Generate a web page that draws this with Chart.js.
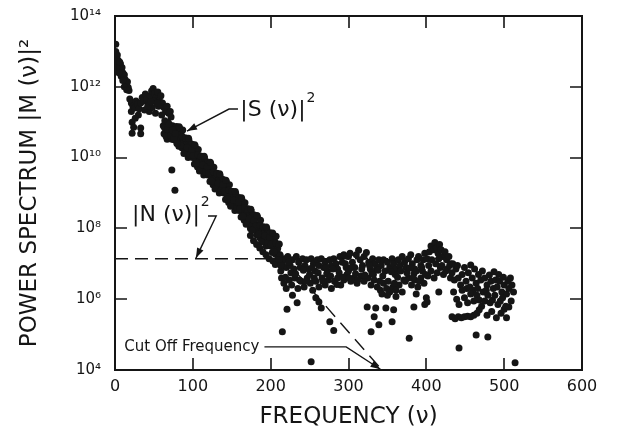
<!DOCTYPE html>
<html><head><meta charset="utf-8">
<script src="https://cdn.jsdelivr.net/npm/chart.js@4/dist/chart.umd.min.js"></script>
<style>html,body{margin:0;padding:0;background:#fff}#wrap{width:617px;height:434px}</style>
</head><body><div id="wrap"><canvas id="c" width="617" height="434"></canvas></div>
<script>
// ---- signal part |S(v)|^2 (frequency, power) ----
const signalFreq = [
 1,1,2,3,2,4,5,3,6,7,8,9,8,10,11,12,13,14,15,16,17,15,5,10,12,18,2,6,
 19,21,23,21,25,27,29,31,33,35,37,39,41,43,45,47,49,51,53,55,57,59,61,63,65,67,69,71,44,48,52,56,60,38,30,26,22,24,22,33,33,72,42,50,54,46,
 62,63,64,65,66,67,68,69,70,71,72,73,74,75,76,77,78,79,80,81,82,83,84,85,86,87,88,89,90,91,92,93,94,95,96,97,98,99,100,101,102,103,104,105,106,107,108,109,110,111,112,113,114,115,116,117,118,119,120,121,122,123,124,125,126,127,128,129,130,131,132,133,134,135,136,137,138,139,140,141,142,143,144,145,146,147,148,149,150,151,152,153,154,155,156,157,158,159,160,161,162,163,164,165,166,167,168,169,170,171,172,173,174,175,176,177,178,179,180,181,182,183,184,185,186,187,188,189,190,191,192,193,194,195,196,197,198,199,200,201,202,203,204,205,206,207,208,209,210,211,212,
 80.5,82.5,84.5,86.5,88.5,90.5,92.5,94.5,96.5,98.5,100.5,102.5,104.5,106.5,108.5,110.5,112.5,114.5,116.5,118.5,120.5,122.5,124.5,126.5,128.5,130.5,132.5,134.5,136.5,138.5,140.5,142.5,144.5,146.5,148.5,150.5,152.5,154.5,156.5,158.5,160.5,162.5,164.5,166.5,168.5,170.5,172.5,174.5,176.5,178.5,180.5,182.5,184.5,186.5,188.5,190.5,192.5,194.5,196.5,198.5,200.5,202.5,204.5,206.5,208.5,210.5,
 63.5,65.5,67.5,69.5,71.5,73.5,75.5,77.5,79.5,
 174,178,182,186,190,194,198,203,206,211,213,176,
 73,77
];
const signalPower = [
 1.6e13,1.0e13,7.1e12,7.9e12,5.0e12,5.6e12,4.0e12,3.5e12,3.2e12,4.5e12,2.8e12,3.5e12,2.0e12,2.5e12,1.8e12,2.2e12,1.6e12,1.3e12,1.1e12,1.4e12,9.5e11,8.3e11,2.5e12,1.5e12,1.0e12,7.9e11,3.5e12,5.0e12,
 4.5e11,3.5e11,2.8e11,2.0e11,2.5e11,4.0e11,3.2e11,2.4e11,3.5e11,5.0e11,4.0e11,6.3e11,4.5e11,3.2e11,5.6e11,7.6e11,8.9e11,6.6e11,5.0e11,7.1e11,4.2e11,5.6e11,3.5e11,2.6e11,2.0e11,2.8e11,1.8e11,2.0e11,2.0e11,2.6e11,1.8e11,2.8e11,1.6e11,2.2e11,1.6e11,1.3e11,1.0e11,7.2e10,4.9e10,6.9e10,4.7e10,1.4e11,2.8e11,4.0e11,3.5e11,3.8e11,
 7.9e10,4.7e10,1.1e11,5.3e10,7.9e10,3.3e10,1.0e11,5.3e10,3.5e10,7.5e10,5.0e10,3.3e10,7.9e10,5.3e10,3.2e10,7.0e10,4.0e10,7.5e10,2.8e10,4.7e10,2.1e10,6.7e10,3.2e10,4.4e10,1.9e10,6.0e10,2.2e10,2.7e10,1.4e10,3.6e10,1.7e10,2.5e10,1.0e10,3.1e10,1.7e10,2.4e10,1.05e10,2.4e10,1.0e10,1.5e10,6.6e9,2.1e10,8.9e9,1.2e10,5.4e9,1.7e10,7.1e9,8.4e9,4.5e9,1.1e10,5.4e9,8.0e9,3.2e9,9.9e9,5.4e9,7.5e9,3.3e9,7.5e9,3.2e9,4.7e9,2.1e9,6.7e9,2.8e9,3.9e9,1.7e9,5.3e9,2.2e9,2.7e9,1.4e9,3.6e9,1.7e9,2.5e9,1.0e9,3.1e9,1.7e9,2.4e9,1.05e9,2.4e9,1.0e9,1.5e9,6.6e8,2.1e9,8.9e8,1.2e9,5.4e8,1.7e9,7.1e8,8.4e8,4.5e8,1.1e9,5.4e8,8.0e8,3.2e8,9.9e8,5.4e8,7.5e8,3.3e8,7.5e8,3.2e8,4.7e8,2.1e8,6.7e8,2.8e8,3.9e8,1.7e8,5.3e8,2.2e8,2.7e8,1.4e8,3.6e8,1.7e8,2.5e8,1.0e8,3.1e8,1.7e8,2.4e8,1.05e8,2.4e8,1.0e8,1.3e8,6.6e7,2.1e8,8.9e7,1.2e8,5.4e7,1.7e8,7.1e7,8.4e7,4.5e7,1.1e8,5.4e7,8.0e7,3.2e7,9.9e7,5.4e7,7.5e7,3.3e7,7.5e7,3.2e7,4.7e7,2.1e7,6.7e7,2.8e7,4.4e7,1.9e7,6.0e7,2.2e7,2.7e7,1.4e7,3.6e7,1.7e7,
 3.6e10,7.4e10,2.2e10,3.9e10,1.3e10,3.5e10,1.9e10,3.5e10,1.2e10,1.7e10,1.15e10,2.3e10,6.9e9,1.2e10,4.2e9,1.1e10,6.2e9,1.1e10,3.9e9,5.5e9,3.6e9,7.4e9,2.2e9,3.9e9,1.3e9,3.5e9,1.9e9,3.5e9,1.2e9,1.7e9,1.15e9,2.3e9,6.9e8,1.2e9,4.2e8,1.1e9,6.2e8,1.1e9,3.9e8,5.5e8,3.6e8,7.4e8,2.2e8,3.9e8,1.3e8,3.5e8,1.9e8,3.5e8,1.2e8,1.7e8,1.15e8,2.3e8,6.9e7,1.2e8,4.2e7,1.1e8,6.2e7,1.1e8,3.9e7,5.5e7,3.6e7,7.4e7,2.2e7,3.9e7,1.3e7,3.5e7,
 7.1e10,4.0e10,6.3e10,8.9e10,4.2e10,6.0e10,3.5e10,4.8e10,2.5e10,
 6.3e7,4.5e7,3.5e7,2.8e7,2.2e7,1.8e7,1.4e7,1.2e7,9.5e6,1.3e7,8.9e6,8.9e7,
 4.5e9,1.2e9
];
// ---- noise floor |N(v)|^2 region (frequency, power) ----
const noiseFreq = [
 212,215,218,220,222,225,228,230,233,236,238,241,244,246,249,252,255,257,260,262,265,268,270,273,276,278,281,284,286,289,292,294,297,300,302,305,308,310,313,315,318,320,323,326,328,331,334,336,339,342,345,347,350,353,356,358,361,364,366,369,372,374,377,380,382,385,388,390,393,396,398,401,404,406,409,411,413,415,417,419,421,424,426,429,431,
 214,217,220,224,227,231,235,239,243,247,251,254,258,262,266,270,274,278,282,286,290,294,298,303,307,311,316,320,325,329,333,337,341,345,349,353,357,361,365,369,373,377,381,385,389,393,397,402,406,410,414,418,422,427,431,
 226,250,272,300,330,360,384,395,
 213,219,223,232,237,242,245,253,256,261,267,271,277,280,285,288,293,296,301,304,309,312,317,321,327,332,338,340,344,351,355,359,363,367,371,375,379,383,387,391,394,399,403,407,412,416,420,425,430,
 215,221,228,234,252,258,262,265,276,281,324,335,348,358,333,356,339,329,378,384,400,401,398,416,343,387,350,361,
 433,436,438,441,444,446,449,451,454,457,459,462,464,467,470,472,475,478,481,483,486,489,491,494,497,500,503,506,510,512,
 434,440,452,456,460,466,473,477,487,493,499,505,508,496,500,
 435,439,442,446,449,453,457,461,465,468,471,475,479,482,485,488,492,495,498,502,506,509,
 433,437,441,445,449,453,457,461,465,468,490,503,478,484,
 442,464,479,514
];
const noisePower = [
 1.8e7,1.0e7,1.4e7,7.9e6,1.6e7,8.9e6,1.3e7,7.1e6,1.6e7,1.1e7,7.9e6,1.4e7,8.9e6,1.3e7,7.1e6,1.4e7,1.0e7,6.3e6,1.3e7,8.9e6,1.4e7,7.9e6,1.1e7,6.3e6,1.3e7,8.9e6,1.4e7,1.0e7,7.1e6,1.6e7,1.1e7,1.8e7,7.9e6,1.6e7,2.0e7,1.1e7,7.9e6,1.8e7,2.4e7,1.3e7,8.9e6,1.6e7,2.1e7,1.1e7,7.1e6,1.4e7,1.0e7,7.1e6,1.3e7,8.9e6,1.3e7,6.3e6,1.1e7,7.9e6,1.4e7,1.0e7,7.1e6,1.3e7,8.9e6,1.6e7,1.1e7,7.9e6,1.4e7,1.8e7,1.0e7,7.1e6,1.3e7,1.6e7,8.9e6,1.3e7,2.0e7,1.4e7,2.2e7,3.2e7,2.5e7,4.0e7,2.8e7,2.0e7,3.5e7,2.5e7,1.6e7,2.2e7,1.3e7,1.6e7,1.0e7,
 4.0e6,2.8e6,2.0e6,3.5e6,2.5e6,4.0e6,2.0e6,3.2e6,2.2e6,4.0e6,2.8e6,1.8e6,3.2e6,2.2e6,4.0e6,2.5e6,3.5e6,2.0e6,3.2e6,4.0e6,2.5e6,3.5e6,5.0e6,3.2e6,4.0e6,2.8e6,4.5e6,3.2e6,4.0e6,2.5e6,3.5e6,2.2e6,1.8e6,2.8e6,2.0e6,1.6e6,2.2e6,1.8e6,2.5e6,1.6e6,3.2e6,4.0e6,2.5e6,3.5e6,2.2e6,4.0e6,2.8e6,4.5e6,6.3e6,4.0e6,5.6e6,7.9e6,5.0e6,7.1e6,4.0e6,
 5.6e6,5.0e6,5.2e6,6.3e6,5.6e6,5.0e6,5.2e6,6.3e6,
 6.3e6,4.2e6,1.1e7,5.2e6,3.5e6,6.6e6,3.2e6,7.6e6,4.0e6,5.6e6,3.2e6,7.9e6,4.5e6,7.1e6,2.6e6,5.6e6,4.2e6,1.0e7,4.0e6,7.9e6,5.2e6,3.5e6,7.1e6,4.8e6,8.9e6,5.0e6,6.6e6,3.2e6,4.5e6,3.2e6,6.0e6,2.8e6,4.2e6,6.3e6,3.5e6,5.6e6,7.6e6,4.0e6,6.3e6,3.2e6,7.9e6,5.0e6,8.9e6,1.3e7,1.0e7,1.4e7,8.9e6,6.3e6,8.9e6,
 1.2e5,5.2e5,1.3e6,7.9e5,1.7e4,1.1e6,8.3e5,5.6e5,2.3e5,1.3e5,6.0e5,5.6e5,5.6e5,5.0e5,3.2e5,2.3e5,1.9e5,1.2e5,7.9e4,6.0e5,1.1e6,8.3e5,7.1e5,1.6e6,1.4e6,1.4e6,1.3e6,1.2e6,
 5.6e6,3.5e6,7.1e6,4.0e6,2.5e6,5.0e6,7.9e6,3.2e6,5.6e6,9.3e6,4.0e6,7.1e6,2.8e6,5.0e6,3.5e6,6.3e6,4.0e6,2.5e6,4.8e6,3.2e6,2.0e6,3.5e6,2.2e6,3.2e6,1.6e6,2.5e6,1.4e6,2.0e6,2.5e6,1.6e6,
 1.0e7,8.9e6,2.0e6,2.2e6,1.8e6,2.0e6,1.6e6,1.8e6,6.0e6,5.0e6,4.2e6,3.2e6,4.0e6,4.0e5,5.2e5,
 1.6e6,1.0e6,7.1e5,1.8e6,1.1e6,7.9e5,1.4e6,8.9e5,1.3e6,9.5e5,6.3e5,8.9e5,1.3e6,7.9e5,9.5e5,1.3e6,7.1e5,8.9e5,1.1e6,6.3e5,6.0e5,8.9e5,
 3.2e5,2.8e5,3.2e5,3.0e5,3.2e5,3.3e5,3.2e5,3.5e5,4.0e5,5.0e5,3.0e5,3.0e5,3.5e5,4.5e5,
 4.2e4,9.8e4,8.5e4,1.6e4
];
// ---- reference lines ----
const noiseLevelFreq = [0, 430];
const noiseLevelPower = [1.38e7, 1.38e7];
const cutoffLineFreq = [215, 343];
const cutoffLinePower = [1.6e7, 1.0e4];
// ---- axes ----
const xTicks = [0, 100, 200, 300, 400, 500, 600];
const yTicks = [1e4, 1e6, 1e8, 1e10, 1e12, 1e14];
const yTickLabels = ['10\u2074', '10\u2076', '10\u2078', '10\u00B9\u2070', '10\u00B9\u00B2', '10\u00B9\u2074'];
const xTitle = 'FREQUENCY (\u03BD)';
const yTitle = 'POWER SPECTRUM |M (\u03BD)|\u00B2';
// ---- annotations (anchored in data coordinates) ----
const sLabel = {text: '|S (\u03BD)|', sup: '2', freq: 161, power: 2.2e11};
const sArrowFreq = [158, 146.5, 92.5];
const sArrowPower = [2.35e11, 2.35e11, 5.6e10];
const nLabel = {text: '|N (\u03BD)|', sup: '2', freq: 22, power: 2.4e8};
const nArrowFreq = [119.5, 130, 104];
const nArrowPower = [2.25e8, 2.25e8, 1.45e7];
const cutLabel = {text: 'Cut Off Frequency', freq: 12, power: 4.5e4};
const cutArrowFreq = [192, 297, 341];
const cutArrowPower = [4.5e4, 4.5e4, 1.05e4];

const FONT = "'DejaVu Sans', sans-serif";
const INK = '#151515';
const pts = (xs, ys) => xs.map((x, i) => ({x, y: ys[i]}));

const framePlugin = {
  id: 'frame',
  afterDatasetsDraw(chart) {
    const {ctx, chartArea: a, scales: {x, y}} = chart;
    ctx.save();
    ctx.strokeStyle = INK; ctx.lineWidth = 2;
    ctx.strokeRect(a.left, a.top, a.right - a.left, a.bottom - a.top);
    ctx.lineWidth = 1.6;
    ctx.beginPath();
    xTicks.slice(1, -1).forEach(v => {
      const px = Math.round(x.getPixelForValue(v));
      ctx.moveTo(px, a.bottom); ctx.lineTo(px, a.bottom - 12);
      ctx.moveTo(px, a.top); ctx.lineTo(px, a.top + 12);
    });
    yTicks.slice(1, -1).forEach(v => {
      const py = Math.round(y.getPixelForValue(v));
      ctx.moveTo(a.left, py); ctx.lineTo(a.left + 12, py);
      ctx.moveTo(a.right, py); ctx.lineTo(a.right - 12, py);
    });
    ctx.stroke();

    const P = (f, p) => [x.getPixelForValue(f), y.getPixelForValue(p)];
    const arrow = (fs, ps) => {
      const q = fs.map((f, i) => P(f, ps[i]));
      ctx.lineWidth = 1.4;
      ctx.beginPath();
      ctx.moveTo(q[0][0], q[0][1]);
      for (let i = 1; i < q.length; i++) ctx.lineTo(q[i][0], q[i][1]);
      ctx.stroke();
      const [x1, y1] = q[q.length - 2], [x2, y2] = q[q.length - 1];
      const ang = Math.atan2(y2 - y1, x2 - x1), L = 10, W = 3.5;
      ctx.beginPath();
      ctx.moveTo(x2, y2);
      ctx.lineTo(x2 - L * Math.cos(ang) + W * Math.sin(ang), y2 - L * Math.sin(ang) - W * Math.cos(ang));
      ctx.lineTo(x2 - L * Math.cos(ang) - W * Math.sin(ang), y2 - L * Math.sin(ang) + W * Math.cos(ang));
      ctx.closePath(); ctx.fill();
    };
    ctx.fillStyle = INK; ctx.strokeStyle = INK;
    const supText = (lab, size) => {
      const [px, py] = P(lab.freq, lab.power);
      ctx.font = size + 'px ' + FONT;
      ctx.textBaseline = 'middle'; ctx.textAlign = 'left';
      ctx.fillText(lab.text, px, py);
      const w = ctx.measureText(lab.text).width;
      if (lab.sup) {
        ctx.font = Math.round(size * 0.62) + 'px ' + FONT;
        ctx.fillText(lab.sup, px + w + 1, py - size * 0.55);
      }
    };
    supText(sLabel, 22);
    arrow(sArrowFreq, sArrowPower);
    supText(nLabel, 22);
    arrow(nArrowFreq, nArrowPower);
    supText(cutLabel, 15);
    arrow(cutArrowFreq, cutArrowPower);
    ctx.restore();
  }
};

new Chart(document.getElementById('c'), {
  type: 'scatter',
  data: {
    datasets: [
      {label: 'signal', data: pts(signalFreq, signalPower), pointRadius: 3.5, pointBackgroundColor: INK, pointBorderWidth: 0, showLine: false},
      {label: 'noise', data: pts(noiseFreq, noisePower), pointRadius: 3.5, pointBackgroundColor: INK, pointBorderWidth: 0, showLine: false},
      {label: 'noise level', data: pts(noiseLevelFreq, noiseLevelPower), showLine: true, pointRadius: 0, borderColor: INK, borderWidth: 1.5, borderDash: [13, 7]},
      {label: 'cutoff', data: pts(cutoffLineFreq, cutoffLinePower), showLine: true, pointRadius: 0, borderColor: INK, borderWidth: 1.4, borderDash: [14, 8]}
    ]
  },
  options: {
    responsive: false, animation: false, devicePixelRatio: 1,
    layout: {padding: {left: 0, top: 16, right: 35, bottom: 0}},
    plugins: {legend: {display: false}, tooltip: {enabled: false}},
    scales: {
      x: {
        type: 'linear', min: 0, max: 600,
        afterBuildTicks: s => { s.ticks = xTicks.map(v => ({value: v})); },
        afterFit: s => { s.height = 64; s.paddingLeft = 0; s.paddingRight = 0; },
        grid: {display: false, drawTicks: false}, border: {display: false},
        ticks: {font: {family: FONT, size: 16}, color: INK, padding: 7, maxRotation: 0, autoSkip: false, callback: v => String(v)},
        title: {display: true, text: xTitle, color: INK, font: {family: FONT, size: 23}, padding: {top: 4, bottom: 3}}
      },
      y: {
        type: 'logarithmic', min: 1e4, max: 1e14,
        afterBuildTicks: s => { s.ticks = yTicks.map(v => ({value: v})); },
        afterFit: s => { s.width = 115; s.paddingTop = 0; s.paddingBottom = 0; },
        grid: {display: false, drawTicks: false}, border: {display: false},
        ticks: {font: {family: FONT, size: 15}, color: INK, padding: 14, autoSkip: false, callback: (v, i) => yTickLabels[i]},
        title: {display: true, text: yTitle, color: INK, font: {family: FONT, size: 23}, padding: {top: 16, bottom: 0}}
      }
    }
  },
  plugins: [framePlugin]
});
</script>
</body></html>
